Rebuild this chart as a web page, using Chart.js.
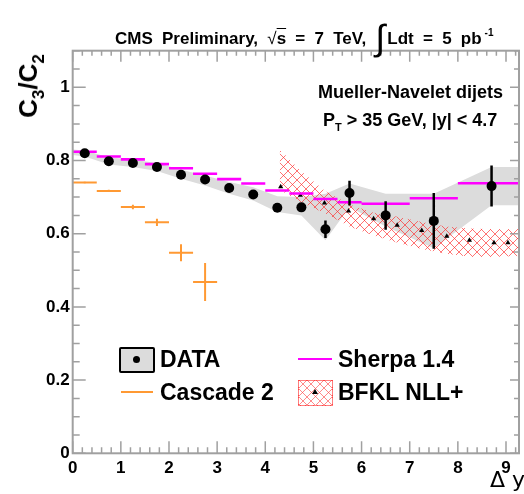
<!DOCTYPE html>
<html>
<head>
<meta charset="utf-8">
<script src="https://cdn.jsdelivr.net/npm/chart.js@4/dist/chart.umd.min.js"></script>
<style>
  html, body { margin:0; padding:0; background:#fff; }
  #wrap { position:relative; width:524px; height:494px; overflow:hidden; font-family:'Liberation Sans', Arial, sans-serif; font-weight:bold; color:#000; }
  canvas { position:absolute; left:0; top:0; }
  .t { position:absolute; white-space:nowrap; }
  .lg { position:absolute; white-space:nowrap; font-size:23px; line-height:26px; }
</style>
</head>
<body>
<div id="wrap">
  <canvas id="c" width="524" height="494"></canvas>
  <!-- title -->
  <div class="t" style="left:115px; top:22px; font-size:17px; line-height:19px; word-spacing:4.5px;">CMS Preliminary, <span style="font-weight:normal">&#8730;</span><span style="text-decoration:overline">s</span> = 7 TeV, <span style="display:inline-block; font-size:36px; line-height:19px; font-weight:normal; position:relative; top:6px; margin-right:2px;">&#8747;</span>Ldt = 5 pb<span style="font-size:10px; position:relative; top:-8px; margin-left:3px;">-1</span></div>
  <!-- annotations -->
  <div class="t" style="left:318px; top:82px; font-size:18px; line-height:20px;">Mueller-Navelet dijets</div>
  <div class="t" style="left:323px; top:110px; font-size:18px; line-height:20px;">P<span style="font-size:11px;position:relative;top:5px;">T</span> &gt; 35 GeV, |y| &lt; 4.7</div>
  <!-- axis titles -->
  <div class="t" id="ytitle" style="left:30px; top:86px; font-size:26px; line-height:28px; transform:translate(-50%,-50%) rotate(-90deg);">C<span style="font-size:17px;position:relative;top:7px;">3</span>/C<span style="font-size:17px;position:relative;top:7px;">2</span></div>
  <div class="t" style="left:490px; top:468px; font-size:22px; line-height:24px; font-family:'DejaVu Sans', sans-serif; font-weight:normal;">&#916; y</div>
  <!-- legend -->
  <div style="position:absolute; left:119px; top:347px; width:32px; height:22px; background:#dcdcdc; border:2px solid #000; border-radius:2px;"></div>
  <div style="position:absolute; left:133px; top:356px; width:7px; height:7px; background:#000; border-radius:50%;"></div>
  <div class="lg" style="left:160px; top:346px;">DATA</div>
  <div style="position:absolute; left:121px; top:391px; width:32px; height:2px; background:rgb(255,153,51);"></div>
  <div class="lg" style="left:160px; top:379px;">Cascade 2</div>
  <div style="position:absolute; left:298px; top:358px; width:34px; height:2px; background:#ff00ff;"></div>
  <div class="lg" style="left:338px; top:346px;">Sherpa 1.4</div>
  <div style="position:absolute; left:298px; top:380px; width:33px; height:24px; border:1px solid rgba(255,0,0,0.5); background-image:repeating-linear-gradient(45deg, transparent 0 5px, rgba(255,60,60,0.6) 5px 6px), repeating-linear-gradient(-45deg, transparent 0 5px, rgba(255,60,60,0.6) 5px 6px);"></div>
  <div style="position:absolute; left:312px; top:389px; width:0; height:0; border-left:3px solid transparent; border-right:3px solid transparent; border-bottom:5px solid #000;"></div>
  <div class="lg" style="left:338px; top:379px;">BFKL NLL+</div>
</div>
<script>
// ---------------- data ----------------
const dataX    = [0.25,0.75,1.25,1.75,2.25,2.75,3.25,3.75,4.25,4.75,5.25,5.75,6.5,7.5,8.7];
const dataY    = [0.820,0.798,0.793,0.782,0.761,0.748,0.725,0.707,0.671,0.672,0.612,0.711,0.650,0.635,0.730];
const dataStat = [0.005,0.005,0.005,0.005,0.006,0.006,0.007,0.008,0.010,0.012,0.024,0.034,0.039,0.076,0.056];

const sysX  = [0,0.25,0.75,1.25,1.75,2.25,2.75,3.25,3.75,4.25,4.75,5.25,5.75,6.5,7.5,8.7,9.4];
const sysHi = [0.830,0.827,0.809,0.802,0.793,0.775,0.759,0.741,0.727,0.702,0.700,0.709,0.737,0.709,0.709,0.782,0.782];
const sysLo = [0.815,0.811,0.789,0.782,0.771,0.750,0.732,0.709,0.691,0.659,0.650,0.582,0.673,0.620,0.560,0.678,0.678];

const binEdges = [0,0.5,1,1.5,2,2.5,3,3.5,4,4.5,5,5.5,6,7,8,9.4];
const sherpaY  = [0.824,0.811,0.803,0.790,0.779,0.764,0.749,0.737,0.718,0.710,0.695,0.686,0.682,0.697,0.738];

const cascadeEdges = [0,0.5,1,1.5,2,2.5,3];
const cascadeY     = [0.740,0.717,0.673,0.631,0.548,0.468];
const cascadeErr   = [0.002,0.003,0.006,0.010,0.023,0.052];

const bfklX     = [4.32,4.73,5.23,5.73,6.25,6.74,7.25,7.77,8.24,8.75,9.04];
const bfklY     = [0.728,0.705,0.684,0.662,0.641,0.623,0.609,0.593,0.582,0.575,0.575];
const bfklBandX = [4.3,4.75,5.25,5.75,6.25,6.75,7.25,7.75,8.25,8.75,9.4];
const bfklHi    = [0.830,0.770,0.716,0.680,0.657,0.646,0.632,0.620,0.614,0.612,0.612];
const bfklLo    = [0.720,0.685,0.655,0.620,0.595,0.575,0.558,0.545,0.537,0.537,0.540];

const xTicks = [0,1,2,3,4,5,6,7,8,9];
const yTicks = [0,0.2,0.4,0.6,0.8,1];

// ---------------- helpers ----------------
const pts = (xs, ys) => xs.map((x,i) => ({x:x, y:ys[i]}));
function segs(edges, vals) {
  const out = [];
  vals.forEach((v,i) => { out.push({x:edges[i],y:v},{x:edges[i+1],y:v},{x:edges[i+1],y:null}); });
  return out;
}
function errBars(xs, ys, es) {
  const out = [];
  xs.forEach((x,i) => { out.push({x:x,y:ys[i]-es[i]},{x:x,y:ys[i]+es[i]},{x:x,y:null}); });
  return out;
}
const cascadeCenters = cascadeY.map((v,i) => (cascadeEdges[i]+cascadeEdges[i+1])/2);

// hatch pattern
const pc = document.createElement('canvas'); pc.width = 9; pc.height = 9;
const pctx = pc.getContext('2d');
pctx.strokeStyle = 'rgba(255,40,40,0.65)'; pctx.lineWidth = 1;
pctx.beginPath(); pctx.moveTo(0,0); pctx.lineTo(9,9); pctx.moveTo(9,0); pctx.lineTo(0,9);
pctx.moveTo(-1,8); pctx.lineTo(1,10); pctx.moveTo(8,-1); pctx.lineTo(10,1);
pctx.moveTo(-1,1); pctx.lineTo(1,-1); pctx.moveTo(8,10); pctx.lineTo(10,8);
pctx.stroke();
const hatch = document.getElementById('c').getContext('2d').createPattern(pc, 'repeat');

const ORANGE = 'rgb(255,153,51)';
const MAG = '#ff00ff';

const base = {type:'line', pointRadius:0, borderWidth:0, fill:false, tension:0};

const datasets = [
  Object.assign({}, base, {label:'sysHi', data:pts(sysX,sysHi), fill:'+1', backgroundColor:'#dcdcdc', order:10}),
  Object.assign({}, base, {label:'sysLo', data:pts(sysX,sysLo), order:10}),
  Object.assign({}, base, {label:'bfklHi', data:pts(bfklBandX,bfklHi), fill:'+1', backgroundColor:hatch, borderWidth:0, order:9}),
  Object.assign({}, base, {label:'bfklLo', data:pts(bfklBandX,bfklLo), order:9}),
  Object.assign({}, base, {label:'BFKL', data:pts(bfklX,bfklY), showLine:false, pointRadius:3, pointStyle:'triangle', pointBackgroundColor:'#000', pointBorderColor:'#000', pointBorderWidth:0, order:8}),
  Object.assign({}, base, {label:'Sherpa', data:segs(binEdges,sherpaY), borderColor:MAG, borderWidth:2.6, order:7}),
  Object.assign({}, base, {label:'Cascade', data:segs(cascadeEdges,cascadeY), borderColor:ORANGE, borderWidth:2, order:6}),
  Object.assign({}, base, {label:'CascadeErr', data:errBars(cascadeCenters,cascadeY,cascadeErr), borderColor:ORANGE, borderWidth:2, order:6}),
  Object.assign({}, base, {label:'DataErr', data:errBars(dataX,dataY,dataStat), borderColor:'#000', borderWidth:2.5, order:2}),
  Object.assign({}, base, {label:'DATA', data:pts(dataX,dataY), showLine:false, pointRadius:5, pointStyle:'circle', pointBackgroundColor:'#000', pointBorderColor:'#000', pointBorderWidth:0, order:1})
];

// frame + inward ROOT-style ticks
const frame = {
  id:'frame',
  afterDatasetsDraw(chart) {
    const {ctx, chartArea:a, scales:{x, y}} = chart;
    ctx.save();
    ctx.strokeStyle = '#a0a0a0';
    ctx.lineWidth = 1.5;
    ctx.beginPath();
    for (let i = 0; i <= 50; i++) {
      const v = i * 0.2;
      if (v > x.max + 1e-9) break;
      const px = x.getPixelForValue(v);
      const major = Math.abs(v - Math.round(v)) < 1e-6;
      const lb = major ? 12 : 6, lt = major ? 11 : 5;
      ctx.moveTo(px, a.bottom); ctx.lineTo(px, a.bottom - lb);
      ctx.moveTo(px, a.top); ctx.lineTo(px, a.top + lt);
    }
    for (let i = 0; i <= 30; i++) {
      const v = i * 0.05;
      if (v > y.max + 1e-9) break;
      const py = y.getPixelForValue(v);
      const major = Math.abs(v/0.2 - Math.round(v/0.2)) < 1e-6;
      const ll = major ? 13 : 7, lr = major ? 9 : 5;
      ctx.moveTo(a.left, py); ctx.lineTo(a.left + ll, py);
      ctx.moveTo(a.right, py); ctx.lineTo(a.right - lr, py);
    }
    ctx.stroke();
    ctx.lineWidth = 2;
    ctx.strokeRect(a.left, a.top, a.right - a.left, a.bottom - a.top);
    ctx.restore();
  }
};

new Chart(document.getElementById('c'), {
  type:'line',
  data:{datasets:datasets},
  options:{
    responsive:false,
    devicePixelRatio:1,
    animation:false,
    events:[],
    layout:{padding:{top:50.7, right:2.3, left:0, bottom:0}},
    plugins:{legend:{display:false}, tooltip:{enabled:false}, filler:{propagate:false}},
    scales:{
      x:{type:'linear', min:0, max:9.27,
         grid:{display:false, drawTicks:false}, border:{display:false},
         afterFit(s){ s.height = 40.7; },
         afterBuildTicks(s){ s.ticks = xTicks.map(v => ({value:v})); },
         ticks:{padding:5, color:'#000', font:{family:'Liberation Sans', weight:'bold', size:17}, callback:v => String(v), maxRotation:0, autoSkip:false}},
      y:{type:'linear', min:0, max:1.1,
         grid:{display:false, drawTicks:false}, border:{display:false},
         afterFit(s){ s.width = 72.7; },
         afterBuildTicks(s){ s.ticks = yTicks.map(v => ({value:v})); },
         ticks:{padding:3, color:'#000', font:{family:'Liberation Sans', weight:'bold', size:17}, callback:v => String(+v.toFixed(1)), autoSkip:false}}
    }
  },
  plugins:[frame]
});
</script>
</body>
</html>
